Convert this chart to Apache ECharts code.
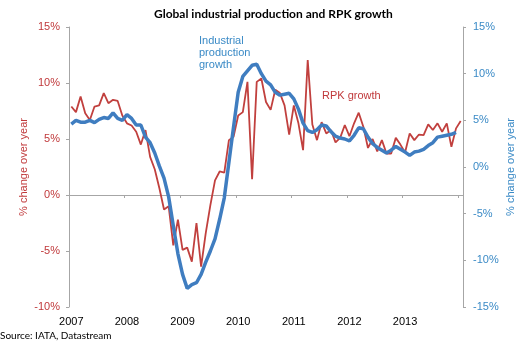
<!DOCTYPE html>
<html><head><meta charset="utf-8">
<script src="https://cdn.jsdelivr.net/npm/echarts@6/dist/echarts.min.js"></script>
<style>html,body{margin:0;padding:0;background:#fff}#c{width:517px;height:343px}</style>
</head><body><div id="c"></div><script>
// Month categories: Jan 2007 .. Jan 2014
const years = [2007, 2008, 2009, 2010, 2011, 2012, 2013, 2014];
const months = [];
years.forEach(y => { for (let m = 1; m <= 12; m++) { if (y === 2014 && m > 1) break; months.push(y + '-' + (m < 10 ? '0' + m : m)); } });

// RPK growth (% change over year, left axis)
const rpkGrowth = [
  7.9, 7.4, 8.8, 7.3, 6.7, 7.9, 8.0, 9.1, 8.2, 8.5, 8.4, 7.1,
  6.4, 6.2, 5.65, 4.5, 5.8, 3.4, 2.3, 0.6, -1.3, -1.0, -4.5, -2.2,
  -4.9, -4.7, -5.95, -2.5, -6.4, -3.4, -0.9, 1.3, 2.1, 2.0, 4.9, 5.2,
  7.1, 7.4, 10.1, 1.4, 10.1, 10.4, 8.3, 7.6, 9.4, 9.1, 8.0, 5.4,
  8.0, 6.4, 4.0, 12.05, 6.3, 4.9, 6.5, 5.5, 5.8, 4.7, 5.1, 6.25,
  5.25, 6.4, 7.35, 6.1, 4.2, 5.0, 3.9, 4.9, 3.7, 3.7, 5.1, 4.5,
  3.8, 5.5, 4.9, 5.4, 5.35, 6.3, 5.8, 6.4, 5.65, 6.4, 4.3, 5.95,
  6.6
];
// Industrial production growth (% change over year, right axis)
const ipGrowth = [
  4.6, 5.0, 4.8, 4.8, 5.0, 4.75, 5.1, 5.3, 5.2, 5.8, 5.2, 5.0,
  5.6, 5.2, 4.5, 4.5, 3.2, 2.6, 1.5, 0.1, -1.2, -3.2, -6.3, -9.3,
  -11.5, -13.0, -12.6, -12.4, -11.5, -10.2, -9.0, -7.7, -5.6, -3.3, 0.5, 4.3,
  8.0, 9.7, 10.3, 10.9, 11.0, 10.0, 9.2, 8.8, 8.0, 7.7, 7.8, 7.9,
  7.3, 6.2, 4.7, 3.9, 3.7, 4.0, 4.5, 4.4, 3.8, 3.3, 3.1, 3.0,
  2.8, 3.4, 4.2, 4.1, 3.2, 2.5, 2.1, 1.8, 1.5, 1.8, 2.2, 1.9,
  1.6, 1.25, 1.6, 1.7, 1.9, 2.3, 2.6, 3.2, 3.3, 3.4, 3.5, 3.7
];
const leftTicks = [-10, -5, 0, 5, 10, 15];
const rightTicks = [-15, -10, -5, 0, 5, 10, 15];

const RED = '#c0393b', BLUE = '#3a8ac6', GREY = '#a6a6a6';
const SANS = '"Liberation Sans", Arial, sans-serif';
const chart = echarts.init(document.getElementById('c'), null, { renderer: 'canvas' });
chart.setOption({
  animation: false,
  title: {
    text: 'Global industrial production and RPK growth', left: 149, top: 3,
    textStyle: { fontFamily: 'Lato', fontWeight: 'bold', fontSize: 12, color: '#000' }
  },
  grid: { left: 69, right: 54, top: 27, bottom: 36, containLabel: false, outerBoundsMode: 'none' },
  xAxis: [
    {
      type: 'category', data: months, boundaryGap: true, position: 'bottom',
      axisLine: { show: false, onZero: false }, axisTick: { show: false },
      axisLabel: {
        interval: (i) => i % 12 === 0 && i < 84, formatter: (v) => v.slice(0, 4),
        fontFamily: SANS, fontSize: 11, color: '#000', margin: 9
      },
      splitLine: { show: false }
    },
    {
      type: 'category', data: months, boundaryGap: true, position: 'bottom',
      axisLine: { show: true, onZero: true, onZeroAxisIndex: 0, lineStyle: { color: GREY, width: 1 } },
      axisTick: { show: true, interval: (i) => i % 12 === 0, length: 3, lineStyle: { color: GREY } },
      axisLabel: { show: false }, splitLine: { show: false }
    }
  ],
  yAxis: [
    {
      type: 'value', min: leftTicks[0], max: leftTicks[leftTicks.length - 1], interval: 5, position: 'left',
      name: '% change over year', nameLocation: 'middle', nameRotate: 90, nameGap: 40, nameMoveOverlap: false,
      nameTextStyle: { color: RED, fontFamily: SANS, fontSize: 11 },
      axisLine: { show: true, onZero: false, lineStyle: { color: GREY } },
      axisTick: { show: true, length: 3, lineStyle: { color: GREY } },
      axisLabel: { formatter: '{value}%', color: RED, fontFamily: SANS, fontSize: 11, margin: 9 },
      splitLine: { show: false }
    },
    {
      type: 'value', min: rightTicks[0], max: rightTicks[rightTicks.length - 1], interval: 5, position: 'right',
      name: '% change over year', nameLocation: 'middle', nameRotate: 90, nameGap: 42, nameMoveOverlap: false,
      nameTextStyle: { color: BLUE, fontFamily: SANS, fontSize: 11 },
      axisLine: { show: true, onZero: false, lineStyle: { color: GREY } },
      axisTick: { show: true, length: 3, lineStyle: { color: GREY } },
      axisLabel: { formatter: '{value}%', color: BLUE, fontFamily: SANS, fontSize: 11, margin: 10 },
      splitLine: { show: false }
    }
  ],
  series: [
    {
      name: 'RPK growth', type: 'line', xAxisIndex: 0, yAxisIndex: 0, data: rpkGrowth,
      symbol: 'none', lineStyle: { color: '#c1403e', width: 1.8 }, z: 2
    },
    {
      name: 'Industrial production growth', type: 'line', xAxisIndex: 0, yAxisIndex: 1, data: ipGrowth,
      symbol: 'none', lineStyle: { color: '#3f7dc0', width: 3.5 }, z: 3
    }
  ],
  graphic: [
    { type: 'text', left: 199, top: 35, style: { text: 'Industrial\nproduction\ngrowth', fill: BLUE, font: '11px ' + SANS, lineHeight: 12 } },
    { type: 'text', left: 322, top: 90, style: { text: 'RPK growth', fill: RED, font: '11px ' + SANS, lineHeight: 12 } },
    { type: 'text', left: 0, top: 330, style: { text: 'Source: IATA, Datastream', fill: '#000', font: '10px Lato', lineHeight: 12 } }
  ]
});
</script></body></html>
